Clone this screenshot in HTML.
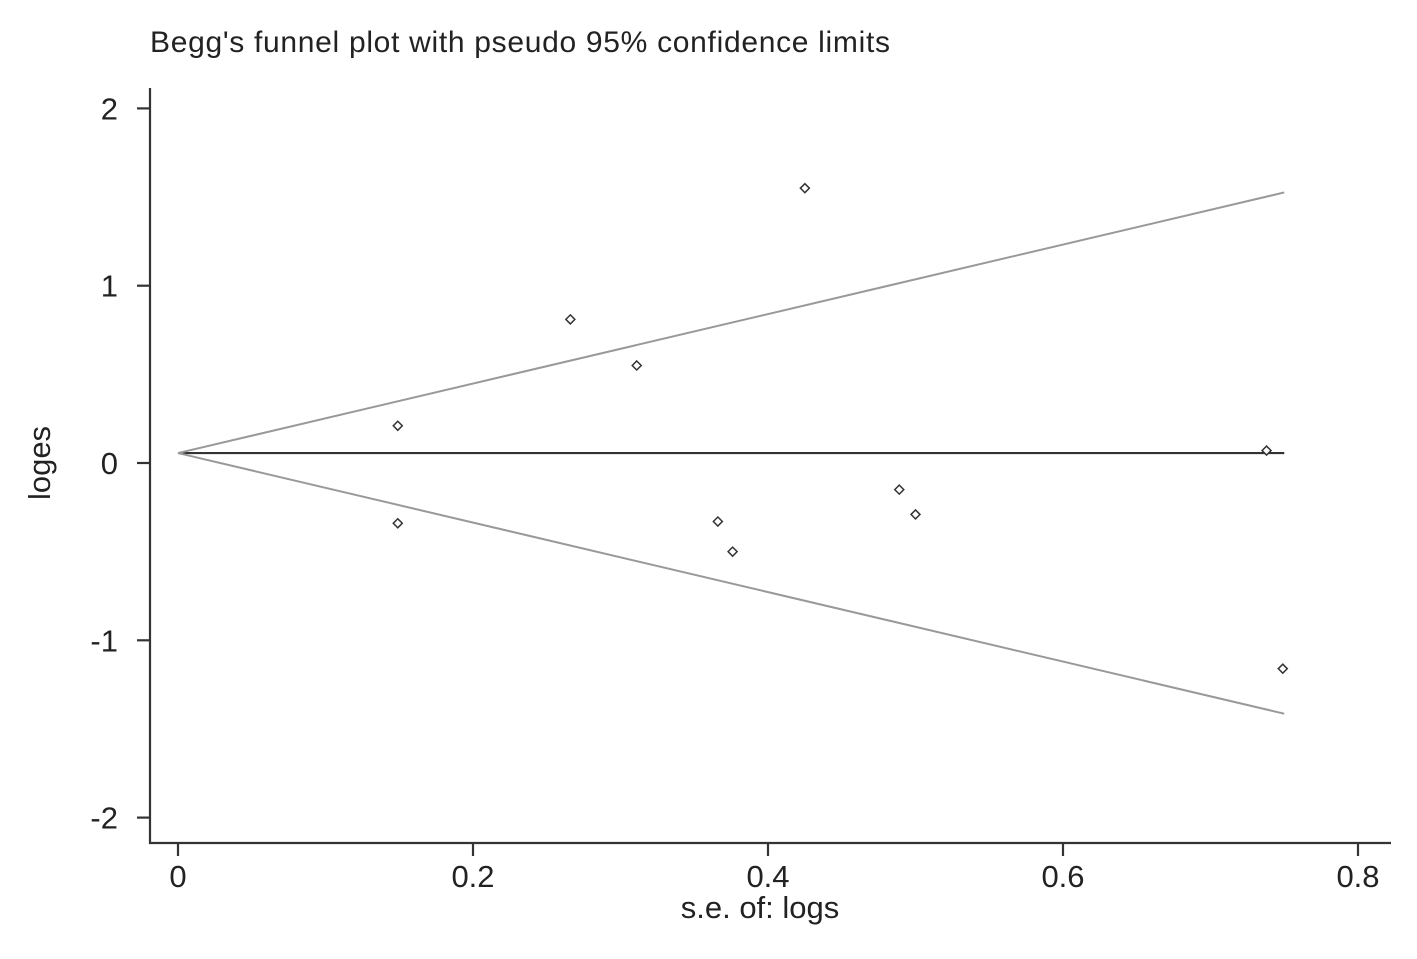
<!DOCTYPE html>
<html><head><meta charset="utf-8"><style>
html,body{margin:0;padding:0;background:#fff;}
svg{display:block;font-family:"Liberation Sans",Arial,sans-serif;}
</style></head><body>
<svg id="chart" width="1417" height="959" viewBox="0 0 1417 959">
<rect x="0" y="0" width="1417" height="959" fill="#fff"/>
<text x="150" y="52" font-size="30" fill="#222" textLength="740">Begg's funnel plot with pseudo 95% confidence limits</text>
<g id="axes"></g>
<g id="lines"></g>
<g id="points"></g>
<text x="760" y="918" font-size="31" fill="#222" text-anchor="middle">s.e. of: logs</text>
<text transform="translate(50,463) rotate(-90)" font-size="31" fill="#222" text-anchor="middle">loges</text>
</svg>
<script>
const seValues = [0.149, 0.149, 0.266, 0.311, 0.425, 0.366, 0.376, 0.489, 0.500, 0.738, 0.749];
const effectValues = [0.21, -0.34, 0.81, 0.55, 1.55, -0.33, -0.50, -0.15, -0.29, 0.07, -1.16];
const pooledEffect = 0.056;
const maxSe = 0.75;
const xTicks = [0, 0.2, 0.4, 0.6, 0.8];
const xTickLabels = ["0", "0.2", "0.4", "0.6", "0.8"];
const yTicks = [2, 1, 0, -1, -2];
const yTickLabels = ["2", "1", "0", "-1", "-2"];

const NS = "http://www.w3.org/2000/svg";
const X = v => 178 + v * 1475;
const Y = v => 463 - v * 177.3;
function mk(tag, attrs, parent, text) {
  const e = document.createElementNS(NS, tag);
  for (const k in attrs) e.setAttribute(k, attrs[k]);
  if (text !== undefined) e.textContent = text;
  document.getElementById(parent).appendChild(e);
  return e;
}
let e;
e = mk("line", {x1:150, y1:88, x2:150, y2:844, stroke:"#333", "stroke-width":2.2}, "axes");


e = mk("line", {x1:149, y1:843, x2:1391, y2:843, stroke:"#333", "stroke-width":2.2}, "axes");


yTicks.forEach((t, i) => {
  let l = mk("line", {x1:137, y1:Y(t), x2:150, y2:Y(t), stroke:"#333", "stroke-width":2.2}, "axes");
  
  
  let tx = mk("text", {x:118, y:Y(t)+11, "font-size":31, fill:"#222", "text-anchor":"end"}, "axes", yTickLabels[i]);
  
  
});
xTicks.forEach((t, i) => {
  let l = mk("line", {x1:X(t), y1:843, x2:X(t), y2:856, stroke:"#333", "stroke-width":2.2}, "axes");
  
  
  let tx = mk("text", {x:X(t), y:887, "font-size":31, fill:"#222", "text-anchor":"middle"}, "axes", xTickLabels[i]);
  
  
});
e = mk("line", {x1:X(0), y1:Y(pooledEffect), x2:X(maxSe), y2:Y(pooledEffect), stroke:"#333", "stroke-width":2.2}, "lines");


e = mk("line", {x1:X(0), y1:Y(pooledEffect), x2:X(maxSe), y2:Y(pooledEffect + 1.96*maxSe), stroke:"#999", "stroke-width":2}, "lines");


e = mk("line", {x1:X(0), y1:Y(pooledEffect), x2:X(maxSe), y2:Y(pooledEffect - 1.96*maxSe), stroke:"#999", "stroke-width":2}, "lines");


seValues.forEach((s, i) => {
  const cx = X(s), cy = Y(effectValues[i]), r = 4.5;
  let p = mk("polygon", {points:`${cx},${cy-r} ${cx+r},${cy} ${cx},${cy+r} ${cx-r},${cy}`, fill:"#fff", stroke:"#333", "stroke-width":1.5}, "points");
  
  
});
</script>
</body></html>
